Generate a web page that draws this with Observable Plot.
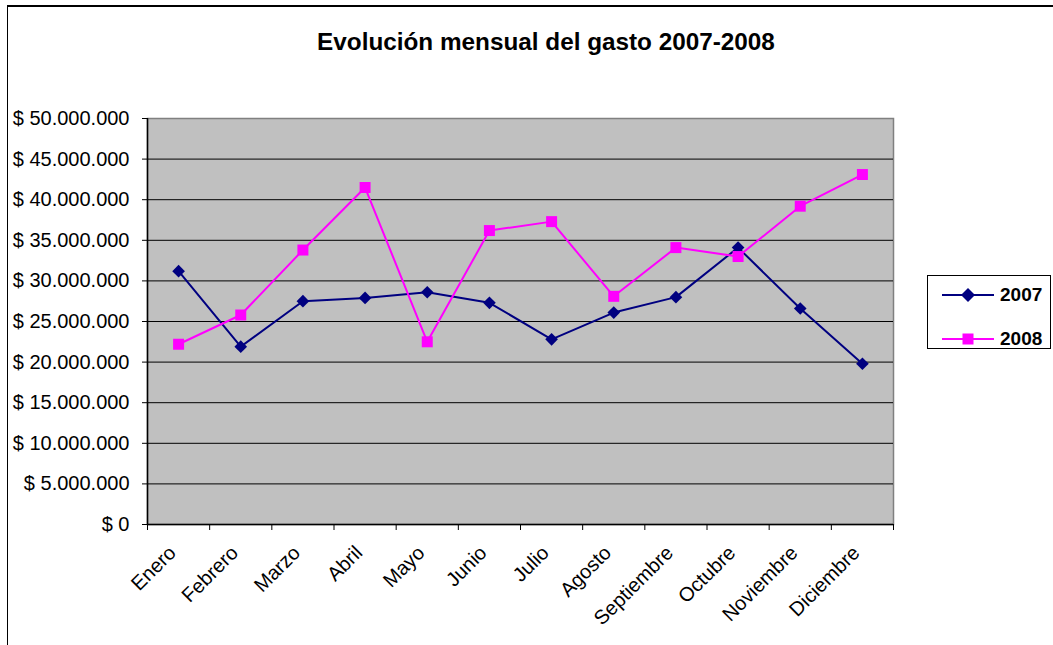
<!DOCTYPE html>
<html>
<head>
<meta charset="utf-8">
<script src="https://cdn.jsdelivr.net/npm/d3@7"></script>
<script src="https://cdn.jsdelivr.net/npm/@observablehq/plot@0.6"></script>
<style>
  html, body { margin: 0; padding: 0; background: #fff; overflow: hidden; }
  #page { position: relative; width: 1053px; height: 645px; overflow: hidden; font-family: "Liberation Sans", Arial, sans-serif; }
  #frame { position: absolute; left: 7px; top: 5px; width: 1100px; height: 700px; border-left: 1px solid #000; border-top: 2px solid #000; box-sizing: border-box; }
  #title { position: absolute; left: 0; top: 0; width: 1092px; height: 60px; box-sizing: border-box; padding-top: 30px; line-height: 24px; text-align: center; font-weight: bold; font-size: 24.3px; color: #000; }
  #chart { position: absolute; left: 0; top: 60px; }
  #legend { position: absolute; left: 927px; top: 275px; width: 124px; height: 74px; border: 1px solid #000; box-sizing: border-box; background: #fff; }
  .item { position: absolute; left: 14px; height: 20px; display: flex; align-items: center; font-weight: bold; font-size: 19px; color: #000; }
  .item svg { margin-right: 6px; }
</style>
</head>
<body>
<div id="page">
  <div id="frame"></div>
  <div id="title"></div>
  <div id="chart"></div>
  <div id="legend"></div>
</div>
<script>
const chartTitle = "Evolución mensual del gasto 2007-2008";
const months = ["Enero", "Febrero", "Marzo", "Abril", "Mayo", "Junio", "Julio", "Agosto", "Septiembre", "Octubre", "Noviembre", "Diciembre"];
const seriesNames = ["2007", "2008"];
const gasto2007 = [31200000, 21900000, 27500000, 27900000, 28600000, 27300000, 22800000, 26100000, 28000000, 34100000, 26600000, 19800000];
const gasto2008 = [22200000, 25800000, 33800000, 41500000, 22500000, 36200000, 37300000, 28100000, 34100000, 33000000, 39200000, 43100000];
const yTicks = [0, 5000000, 10000000, 15000000, 20000000, 25000000, 30000000, 35000000, 40000000, 45000000, 50000000];
const colors = ["#000080", "#FF00FF"];
const symbols = ["diamond2", "square"];

const locale = d3.formatLocale({decimal: ",", thousands: ".", grouping: [3], currency: ["$ ", ""]});
const money = locale.format("$,.0f");

const rows2007 = months.map((m, i) => ({month: m, idx: i, serie: seriesNames[0], value: gasto2007[i]}));
const rows2008 = months.map((m, i) => ({month: m, idx: i, serie: seriesNames[1], value: gasto2008[i]}));
const pos = d => d.idx + 0.5;

document.getElementById("title").textContent = chartTitle;

const chart = Plot.plot({
  width: 1053,
  height: 585,
  marginLeft: 147,
  marginRight: 160,
  marginTop: 58,
  marginBottom: 121,
  style: {fontFamily: "'Liberation Sans', Arial, sans-serif", fontSize: "20px", color: "#000", background: "transparent", overflow: "visible"},
  x: {type: "linear", domain: [0, months.length], axis: null},
  y: {domain: [0, 50000000], axis: null},
  marks: [
    Plot.frame({fill: "#C0C0C0", stroke: "#808080", strokeWidth: 1.5}),
    Plot.gridY(yTicks.filter(v => v > 0 && v < 50000000), {stroke: "#000", strokeOpacity: 1, strokeWidth: 1}),
    Plot.ruleX([0], {stroke: "#000", strokeWidth: 1.5}),
    Plot.ruleY([0], {stroke: "#000", strokeWidth: 1.5}),
    Plot.axisY(yTicks, {tickFormat: money, tickSize: 5, tickPadding: 13, fontSize: 20, label: null}),
    Plot.axisX(d3.range(months.length + 1), {tickFormat: () => "", tickSize: 6, label: null}),
    Plot.axisX(months.map((m, i) => i + 0.5), {tickFormat: v => months[Math.round(v - 0.5)], tickSize: 0, tickPadding: 25, tickRotate: -45, dx: -6, fontSize: 20, label: null}),
    Plot.line(rows2007, {x: pos, y: "value", stroke: colors[0], strokeWidth: 2}),
    Plot.line(rows2008, {x: pos, y: "value", stroke: colors[1], strokeWidth: 2}),
    Plot.dot(rows2007, {x: pos, y: "value", fill: colors[0], symbol: symbols[0], r: 5.7, stroke: "none"}),
    Plot.dot(rows2008, {x: pos, y: "value", fill: colors[1], symbol: symbols[1], r: 6.2, stroke: "none"})
  ]
});
document.getElementById("chart").appendChild(chart);

// Legend
const legend = document.getElementById("legend");
seriesNames.forEach((name, i) => {
  const item = document.createElement("div");
  item.className = "item";
  item.style.top = (i === 0 ? 9 : 53) + "px";
  const marker = symbols[i] === "diamond2"
    ? `<path d="M26,3 L33,10 L26,17 L19,10 Z" fill="${colors[i]}"/>`
    : `<rect x="20.5" y="4.5" width="11" height="11" fill="${colors[i]}"/>`;
  item.innerHTML = `<svg width="52" height="20"><line x1="0" x2="52" y1="10" y2="10" stroke="${colors[i]}" stroke-width="2"/>${marker}</svg><span>${name}</span>`;
  legend.appendChild(item);
});
</script>
</body>
</html>
